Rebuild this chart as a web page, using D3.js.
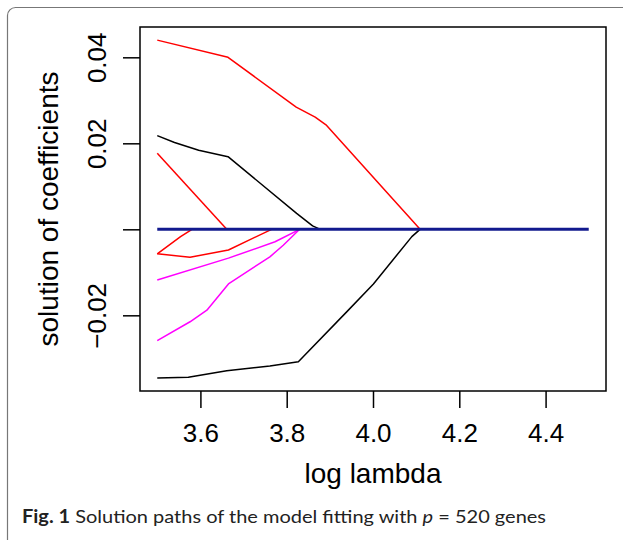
<!DOCTYPE html>
<html>
<head>
<meta charset="utf-8">
<script src="https://cdn.jsdelivr.net/npm/d3@7"></script>
<style>
  body { margin: 0; background: #fff; }
  svg { display: block; }
</style>
</head>
<body>
<div id="chart"></div>
<script>
// axis ticks
const xTicks = [3.6, 3.8, 4.0, 4.2, 4.4];
const xTickLabels = ["3.6", "3.8", "4.0", "4.2", "4.4"];
const yTicks = [-0.02, 0, 0.02, 0.04];
const yTickLabels = ["\u22120.02", "", "0.02", "0.04"];

// solution paths: [log lambda, coefficient]
const blackTop = [[3.50, 0.0218], [3.54, 0.0202], [3.596, 0.0184], [3.664, 0.0169], [3.823, 0.0037], [3.86, 0.0008], [3.878, 0]];
const blackBottom = [[3.50, -0.0346], [3.572, -0.0344], [3.661, -0.0329], [3.761, -0.0318], [3.827, -0.0308], [3.939, -0.0192], [4.001, -0.0127], [4.09, -0.0017], [4.109, 0]];
const redTop = [[3.50, 0.0440], [3.664, 0.0400], [3.822, 0.0284], [3.866, 0.0261], [3.891, 0.0243], [4.048, 0.0068], [4.093, 0.0018], [4.109, 0]];
const redMid = [[3.50, 0.0177], [3.661, 0]];
const redLowA = [[3.50, -0.0057], [3.554, -0.0017], [3.576, -0.0003], [3.58, 0]];
const redLowB = [[3.50, -0.0057], [3.576, -0.0065], [3.665, -0.0048], [3.765, 0]];
const magentaA = [[3.50, -0.0118], [3.665, -0.0067], [3.773, -0.0029], [3.83, 0]];
const magentaB = [[3.50, -0.0259], [3.576, -0.0215], [3.615, -0.0188], [3.665, -0.0127], [3.761, -0.0064], [3.792, -0.0037], [3.83, 0]];
const zeroPath = [[3.5, 0], [4.5, 0]];

const W = 623, H = 540;
const box = { left: 140, right: 606, top: 27, bottom: 391 };

const svg = d3.select("#chart").append("svg")
    .attr("width", W)
    .attr("height", H);

// figure frame (cut off at right and bottom)
svg.append("rect")
    .attr("x", 7.5).attr("y", 7.5)
    .attr("width", 800).attr("height", 800)
    .attr("rx", 8)
    .attr("fill", "none")
    .attr("stroke", "#777")
    .attr("stroke-width", 1.2);

// R style 4% padding on both axes
const x = d3.scaleLinear().domain([3.46, 4.54]).range([box.left, box.right]);
const y = d3.scaleLinear().domain([-0.0376, 0.04705]).range([box.bottom, box.top]);

const line = d3.line()
    .x(d => x(d[0]))
    .y(d => y(d[1]));

const g = svg.append("g");

const paths = [
    { data: blackTop, color: "#000" },
    { data: blackBottom, color: "#000" },
    { data: redTop, color: "#ff0000" },
    { data: redMid, color: "#ff0000" },
    { data: redLowA, color: "#ff0000" },
    { data: redLowB, color: "#ff0000" },
    { data: magentaA, color: "#ff00ff" },
    { data: magentaB, color: "#ff00ff" }
];

g.selectAll(".path")
    .data(paths)
    .enter()
    .append("path")
    .attr("class", "path")
    .attr("d", d => line(d.data))
    .attr("fill", "none")
    .attr("stroke", d => d.color)
    .attr("stroke-width", 1.5)
    .attr("stroke-linejoin", "round");

g.append("path")
    .attr("d", line(zeroPath))
    .attr("fill", "none")
    .attr("stroke", "#121a8e")
    .attr("stroke-width", 3);

// plot box
svg.append("rect")
    .attr("x", box.left).attr("y", box.top)
    .attr("width", box.right - box.left)
    .attr("height", box.bottom - box.top)
    .attr("fill", "none")
    .attr("stroke", "#000")
    .attr("stroke-width", 1.5);

const font = "'Liberation Sans', Arial, Helvetica, sans-serif";

// x axis
const xAxis = svg.append("g")
    .attr("transform", `translate(0,${box.bottom})`)
    .call(d3.axisBottom(x).tickValues(xTicks).tickSize(17).tickSizeOuter(0)
        .tickFormat((d, i) => xTickLabels[i]));
xAxis.select(".domain").remove();
xAxis.selectAll(".tick line").attr("stroke", "#000").attr("stroke-width", 1.5);
xAxis.selectAll(".tick text")
    .attr("y", 51)
    .attr("dy", 0)
    .attr("font-family", font)
    .attr("font-size", 26)
    .attr("fill", "#000");

// y axis
const yAxis = svg.append("g")
    .attr("transform", `translate(${box.left},0)`)
    .call(d3.axisLeft(y).tickValues(yTicks).tickSize(17).tickSizeOuter(0)
        .tickFormat((d, i) => yTickLabels[i]));
yAxis.select(".domain").remove();
yAxis.selectAll(".tick line").attr("stroke", "#000").attr("stroke-width", 1.5);
yAxis.selectAll(".tick text")
    .attr("x", null).attr("dy", null)
    .attr("transform", "translate(-34,0) rotate(-90)")
    .attr("text-anchor", "middle")
    .attr("font-family", font)
    .attr("font-size", 26)
    .attr("fill", "#000");

// axis titles
svg.append("text")
    .attr("x", (box.left + box.right) / 2)
    .attr("y", 483)
    .attr("text-anchor", "middle")
    .attr("font-family", font)
    .attr("font-size", 28)
    .text("log lambda");

svg.append("text")
    .attr("transform", `translate(58,${(box.top + box.bottom) / 2}) rotate(-90)`)
    .attr("text-anchor", "middle")
    .attr("font-family", font)
    .attr("font-size", 28)
    .text("solution of coefficients");

// caption
const cap = svg.append("text")
    .attr("x", 22)
    .attr("y", 523)
    .attr("font-family", "Lato, 'Open Sans', sans-serif")
    .attr("font-size", 18)
    .attr("fill", "#222");
cap.append("tspan").attr("font-weight", "bold").text("Fig. 1");
cap.append("tspan").text(" Solution paths of the model fitting with ");
cap.append("tspan").attr("font-style", "italic").text("p");
cap.append("tspan").text(" = 520 genes");
const capLen = cap.node().getComputedTextLength();
if (Math.abs(capLen - 524) > 4) {
    cap.attr("textLength", 524).attr("lengthAdjust", "spacingAndGlyphs");
}
</script>
</body>
</html>
